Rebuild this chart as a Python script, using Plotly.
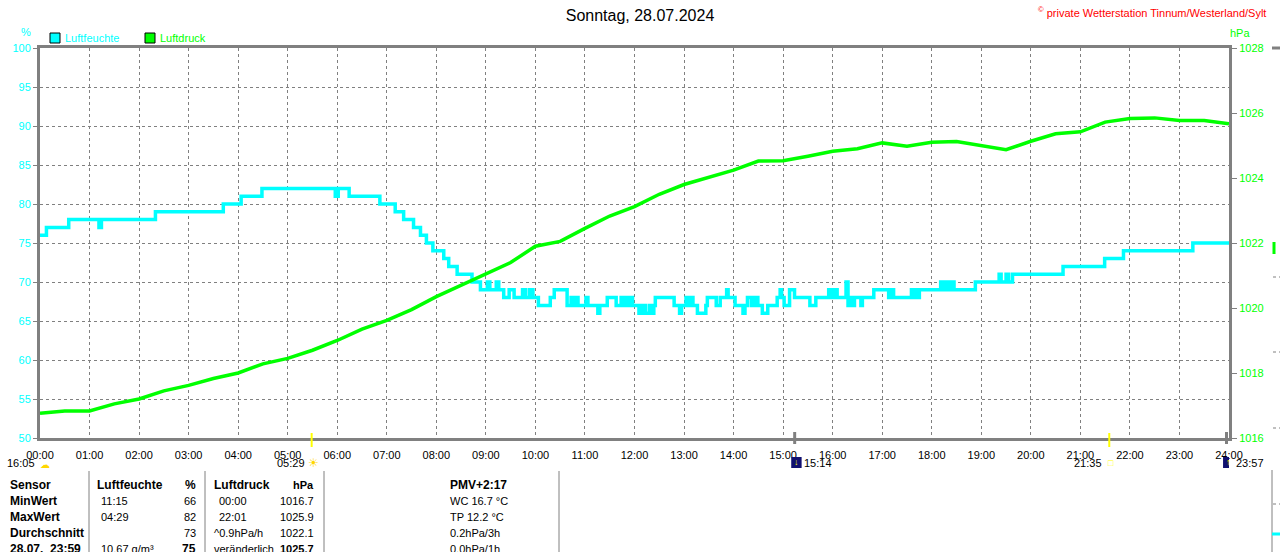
import plotly.graph_objects as go

# ---- values (Sonntag, 28.07.2024) ----
HOUR_TICKS = list(range(25))
HOUR_LABELS = ["%02d:00" % h for h in HOUR_TICKS]

# Luftfeuchte (%) as step changes: hour of day -> new value
HUM_TIMES = [
    0.00, 0.13, 0.58, 1.19, 1.24, 2.33, 3.70, 4.06, 4.48, 5.96, 6.02, 6.24,
    6.86, 7.17, 7.34, 7.54, 7.68, 7.80, 7.93, 8.15, 8.25, 8.42, 8.72, 8.89,
    9.03, 9.08, 9.21, 9.26, 9.36, 9.47, 9.57, 9.74, 9.80, 9.88, 9.95, 10.06,
    10.30, 10.38, 10.64, 10.72, 10.76, 10.82, 10.86, 11.02, 11.06, 11.26, 11.30, 11.45,
    11.63, 11.73, 11.78, 11.83, 11.88, 11.91, 11.96, 12.09, 12.16, 12.22, 12.30, 12.34,
    12.39, 12.42, 12.80, 12.91, 12.95, 13.04, 13.08, 13.14, 13.18, 13.27, 13.44, 13.47,
    13.65, 13.73, 13.86, 13.89, 14.03, 14.19, 14.23, 14.28, 14.36, 14.42, 14.49, 14.58,
    14.69, 14.88, 14.94, 14.97, 15.02, 15.13, 15.23, 15.54, 15.66, 15.92, 15.98, 16.03,
    16.09, 16.27, 16.31, 16.34, 16.38, 16.44, 16.57, 16.60, 16.83, 17.13, 17.19, 17.23,
    17.59, 17.63, 17.67, 17.71, 17.75, 18.18, 18.24, 18.30, 18.36, 18.40, 18.45, 18.88,
    19.36, 19.40, 19.50, 19.55, 19.63, 20.65, 21.49, 21.87, 23.27, 24.00,
]
HUM_VALUES = [
    76, 77, 78, 77, 78, 79, 80, 81, 82, 81, 82, 81,
    80, 79, 78, 77, 76, 75, 74, 73, 72, 71, 70, 69,
    70, 69, 70, 69, 68, 69, 68, 69, 68, 69, 68, 67,
    68, 69, 67, 68, 67, 68, 67, 68, 67, 66, 67, 68,
    67, 68, 67, 68, 67, 68, 67, 66, 67, 66, 67, 66,
    67, 68, 67, 66, 67, 68, 67, 68, 67, 66, 67, 68,
    67, 68, 69, 68, 67, 66, 67, 68, 67, 68, 67, 66,
    67, 68, 69, 68, 67, 69, 68, 67, 68, 69, 68, 69,
    68, 70, 67, 68, 67, 68, 67, 68, 69, 68, 69, 68,
    69, 68, 69, 68, 69, 70, 69, 70, 69, 70, 69, 70,
    71, 70, 71, 70, 71, 72, 73, 74, 75, 75,
]

# Luftdruck (hPa), half-hourly readings
PRES_TIMES = [h / 2 for h in range(49)]
PRES_VALUES = [
    1016.76, 1016.83, 1016.83, 1017.05, 1017.20, 1017.45, 1017.62, 1017.83,
    1018.00, 1018.28, 1018.45, 1018.70, 1019.00, 1019.35, 1019.62, 1019.95,
    1020.35, 1020.70, 1021.07, 1021.40, 1021.90, 1022.05, 1022.45, 1022.83,
    1023.12, 1023.50, 1023.80, 1024.02, 1024.24, 1024.52, 1024.53, 1024.67,
    1024.82, 1024.90, 1025.08, 1024.98, 1025.10, 1025.12, 1025.00, 1024.87,
    1025.13, 1025.36, 1025.42, 1025.72, 1025.83, 1025.85, 1025.77, 1025.77,
    1025.67,
]

# sun / moon events shown under the time axis
EVENT_LABELS = ["16:05", "05:29", "15:14", "21:35", "23:57"]
EVENT_KINDS = ["moon", "sun", "moonbox", "sunset", "moonbox"]

TABLE_ROWS = [
    ["Sensor", "Luftfeuchte", "%", "Luftdruck", "hPa", "PMV+2:17"],
    ["MinWert", "11:15", "66", "00:00", "1016.7", "WC 16.7 °C"],
    ["MaxWert", "04:29", "82", "22:01", "1025.9", "TP 12.2 °C"],
    ["Durchschnitt", "", "73", "^0.9hPa/h", "1022.1", "0.2hPa/3h"],
    ["28.07.  23:59", "10.67 g/m³", "75", "veränderlich", "1025.7", "0.0hPa/1h"],
]

CYAN = "#00FFFF"
GREEN = "#00FF00"
GRAY = "#808080"
FONT = "Liberation Sans"

W, H = 1280, 552
X0, X1, Y0, Y1 = 40, 1229, 48, 438   # plot area in pixels


def px(x):
    return (x - X0) / (X1 - X0)


def py(y):
    return (Y1 - y) / (Y1 - Y0)


def hours(label):
    h, m = label.split(":")
    return int(h) + int(m) / 60


fig = go.Figure()
fig.add_trace(go.Scatter(
    x=HUM_TIMES, y=HUM_VALUES, mode="lines", line_shape="hv",
    line=dict(color=CYAN, width=3.5), name="Luftfeuchte", yaxis="y",
))
fig.add_trace(go.Scatter(
    x=PRES_TIMES, y=PRES_VALUES, mode="lines",
    line=dict(color=GREEN, width=3.5), name="Luftdruck", yaxis="y2",
))

shapes = []
ann = []


def text(x, y, s, color="black", size=11, anchor="left", bold=False, xref="paper", xshift=0):
    if bold:
        s = "<b>%s</b>" % s
    ann.append(dict(
        x=x if xref != "paper" else px(x), y=py(y), xref=xref, yref="paper",
        text=s, showarrow=False, xanchor=anchor, yanchor="middle", xshift=xshift,
        font=dict(family=FONT, size=size, color=color),
    ))


def line(x0, y0, x1, y1, color=GRAY, width=1, dash=None, xref="paper"):
    if xref == "paper":
        x0, x1 = px(x0), px(x1)
    shapes.append(dict(
        type="line", xref=xref, yref="paper", x0=x0, x1=x1, y0=py(y0), y1=py(y1),
        line=dict(color=color, width=width, dash=dash),
    ))


def rect(x0, y0, x1, y1, fill, border="black", width=1):
    shapes.append(dict(
        type="rect", xref="paper", yref="paper",
        x0=px(x0), x1=px(x1), y0=py(y0), y1=py(y1),
        fillcolor=fill, line=dict(color=border, width=width),
    ))


# header texts
text(1268, 12, "<sup>©</sup> private Wetterstation Tinnum/Westerland/Sylt", "#FF0000", 11, "right")
text(26, 32, "%", CYAN, 11, "center")
text(1240, 33, "hPa", GREEN, 11, "center")

# legend
rect(50, 33, 60, 43, CYAN)
text(63, 38, "Luftfeuchte", CYAN)
rect(145, 33, 155, 43, GREEN)
text(158, 38, "Luftdruck", GREEN)

# event marks on the time axis and labels below it
for lab, kind in zip(EVENT_LABELS, EVENT_KINDS):
    t = hours(lab)
    if kind == "moon":
        text(37, 463, lab, anchor="right")
        text(45, 464, "☁", "#FFD700", 10, "center")
    elif kind == "sun":
        line(t, 433, t, 447, "#FFFF00", 2, xref="x")
        text(t, 463, lab, anchor="right", xref="x", xshift=-5)
        text(t, 463, "☀", "#FFD700", 12, "center", xref="x", xshift=2)
    elif kind == "sunset":
        line(t, 433, t, 447, "#FFFF00", 2, xref="x")
        text(t, 463, lab, anchor="right", xref="x", xshift=-5)
        text(t, 463, "□", "#FFFF00", 9, "center", xref="x", xshift=2)
    else:
        line(t, 432, t, 444, GRAY, 3, xref="x")
        shapes.append(dict(
            type="rect", xref="x", yref="paper", x0=t - 0.07, x1=t + 0.14,
            y0=py(468), y1=py(457), fillcolor="#101070", line=dict(width=0),
        ))
        text(t, 462, "↓" if lab == "15:14" else "↑", "#FFFF00", 9, "center", True, xref="x", xshift=2)
        text(t, 463, lab, anchor="left", xref="x", xshift=7)

# table below the chart
for xv in [89, 205, 324, 559]:
    line(xv, 471, xv, 552)
cols = [(8, "left"), (99, "left"), (198, "right"), (217, "left"), (316, "right"), (448, "left")]
row_y = [485, 501, 517, 533, 549]
for r, (row, yv) in enumerate(zip(TABLE_ROWS, row_y)):
    for c, cell in enumerate(row):
        if not cell:
            continue
        x, a = cols[c]
        if r == 0 and c == 1:
            x = 95
        if r in (0, 3, 4) and c == 3:
            x = 212
        bold = r == 0 or c == 0 or (r == 4 and c in (2, 4))
        size = 12 if (bold and c != 4) else 11
        text(x, yv, cell, anchor=a, bold=bold, size=size)

# cut-off edge of the neighbouring panel on the right
line(1272, 48, 1280, 48, GRAY, 3)
line(1272, 470, 1272, 552, GRAY, 1)
for yv in [277, 352, 428, 504]:
    line(1273, yv, 1280, yv, GRAY, 1, "dot")
line(1274, 242, 1274, 254, GREEN, 3)
line(1272, 534, 1280, 534, CYAN, 3)

axis_common = dict(
    showline=True, linecolor=GRAY, linewidth=3, mirror=True,
    zeroline=False, fixedrange=True,
)
fig.update_layout(
    width=W, height=H, autosize=False,
    margin=dict(l=X0, r=W - X1, t=Y0, b=H - Y1),
    paper_bgcolor="white", plot_bgcolor="white",
    showlegend=False,
    title=dict(text="Sonntag, 28.07.2024", x=0.5, xanchor="center",
               y=1 - 15 / H, yanchor="middle",
               font=dict(family=FONT, size=16, color="black")),
    font=dict(family=FONT, size=11, color="black"),
    xaxis=dict(
        range=[0, 24], tickvals=HOUR_TICKS, ticktext=HOUR_LABELS,
        showgrid=True, gridcolor=GRAY, gridwidth=1, griddash="3px,3px",
        ticks="", ticklabelstandoff=5,
        tickfont=dict(family=FONT, size=11, color="black"),
        **axis_common,
    ),
    yaxis=dict(
        range=[50, 100], dtick=5, tick0=50,
        showgrid=True, gridcolor=GRAY, gridwidth=1, griddash="3px,3px",
        ticks="outside", ticklen=4, tickcolor=GRAY, tickwidth=1,
        tickfont=dict(family=FONT, size=11, color=CYAN),
        **axis_common,
    ),
    yaxis2=dict(
        range=[1016, 1028], dtick=2, tick0=1016, overlaying="y", side="right",
        showgrid=False, showline=True, linecolor=GRAY, linewidth=3,
        ticks="outside", ticklen=5, tickcolor=GRAY, tickwidth=1,
        tickfont=dict(family=FONT, size=11, color=GREEN),
        zeroline=False, fixedrange=True,
    ),
    shapes=shapes,
    annotations=ann,
)

fig.write_html(
    "out.html",
    config={"displayModeBar": False},
    post_script="document.body.style.margin='0';document.body.style.overflow='hidden';",
)
